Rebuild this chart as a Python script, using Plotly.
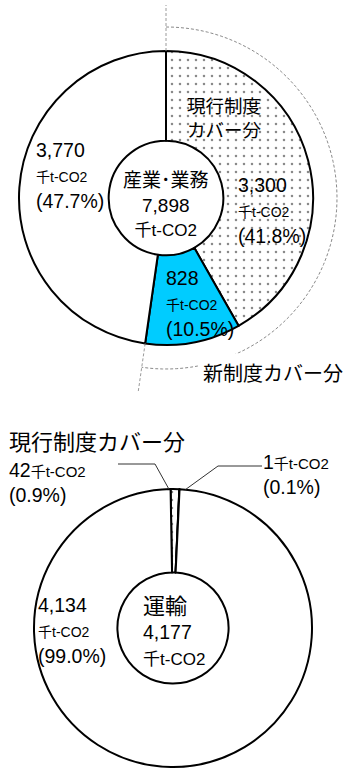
import math
import plotly.graph_objects as go

W, H = 355, 771
FONT = "Liberation Sans, Noto Sans CJK JP, sans-serif"
JFONT = "Noto Sans CJK JP, Liberation Sans, sans-serif"

# ---- data ----
top_labels = ["現行制度カバー分", "新制度カバー分", "その他"]
top_values = [3300, 828, 3770]
top_pcts = ["41.8%", "10.5%", "47.7%"]
top_title = "産業･業務"
top_total = 7898

bot_labels = ["現行制度カバー分", "新制度カバー分", "その他"]
bot_values = [42, 1, 4134]
bot_pcts = ["0.9%", "0.1%", "99.0%"]
bot_title = "運輸"
bot_total = 4177

unit = "千t-CO2"
colors = ["#F0F0F0", "#00CCFF", "#FFFFFF"]

# ---- geometry (pixels) ----
TC = (166, 198); TR = 147
BC = (173, 628); BR = 139


def dom(c, r):
    return dict(x=[(c[0] - r) / W, (c[0] + r) / W],
                y=[1 - (c[1] + r) / H, 1 - (c[1] - r) / H])


def pt(c, r, ang):
    a = math.radians(ang)
    return c[0] + r * math.sin(a), c[1] - r * math.cos(a)


fig = go.Figure()
fig.add_trace(go.Scatter(x=[None], y=[None], showlegend=False, hoverinfo="skip"))

pattern = dict(shape=[".", "", ""], fgcolor="#8a8a8a", size=8, solidity=0.08)
fig.add_trace(go.Pie(labels=top_labels, values=top_values, sort=False, direction="clockwise",
                     rotation=0, hole=0.39, domain=dom(TC, TR), textinfo="none",
                     marker=dict(colors=colors, line=dict(color="black", width=2), pattern=pattern),
                     showlegend=False, hoverinfo="label+value"))
fig.add_trace(go.Pie(labels=bot_labels, values=bot_values, sort=False, direction="clockwise",
                     rotation=-1, hole=0.40, domain=dom(BC, BR), textinfo="none",
                     marker=dict(colors=colors, line=dict(color="black", width=2), pattern=pattern),
                     showlegend=False, hoverinfo="label+value"))

# ---- decorations: dashed coverage arc on the top chart ----
tsum = sum(top_values)
b2 = 360 * (top_values[0] + top_values[1]) / tsum
n = 80
arc_pts = [pt(TC, 171, b2 * i / n) for i in range(n + 1)]
path = "M " + " L ".join(f"{x:.2f},{y:.2f}" for x, y in arc_pts)
shapes = [dict(type="path", path=path, xref="x", yref="y",
               line=dict(color="#8a8a8a", width=1, dash="3px,2px"), layer="above")]
for ang, r2 in [(0, 193), (b2, 196)]:
    x0, y0 = pt(TC, TR, ang)
    x1, y1 = pt(TC, r2, ang)
    shapes.append(dict(type="line", x0=x0, y0=y0, x1=x1, y1=y1, xref="x", yref="y",
                       line=dict(color="#9a9a9a", width=1, dash="3px,2px"), layer="above"))

# ---- leader lines on the bottom chart ----
bsum = sum(bot_values)
m1 = 360 * bot_values[0] / 2 / bsum - 1
m2 = 360 * (bot_values[0] + bot_values[1] / 2) / bsum - 1
ex1, ey1 = pt(BC, BR, m1 - 2.5)
ex2, ey2 = pt(BC, BR, m2 + 2.5)
for pts_ in [[(118, 464), (155, 464), (ex1, ey1)], [(ex2, ey2), (218, 466), (262, 466)]]:
    p = "M " + " L ".join(f"{x:.2f},{y:.2f}" for x, y in pts_)
    shapes.append(dict(type="path", path=p, xref="x", yref="y",
                       line=dict(color="#333333", width=1), layer="above"))

ann = []


def A(text, x, y, size, anchor="left", font=FONT, bg=None, align="left"):
    d = dict(text=text, x=x, y=y, xref="x", yref="y", xanchor=anchor, yanchor="middle",
             showarrow=False, align=align, font=dict(family=font, size=size, color="black"))
    if bg:
        d.update(bgcolor=bg, borderpad=4)
    ann.append(d)


def S(text, size):
    return f"<span style='font-size:{size}px'>{text}</span>"


# top chart labels
A(top_labels[0][:4] + "<br>" + top_labels[0][4:], 185, 117, 18.5, font=JFONT)
A(f"{top_values[0]:,}<br>{S(unit, 14)}<br>({top_pcts[0]})", 236, 210, 19.5)
A(f"{top_values[1]:,}<br>{S(unit, 14)}<br>({top_pcts[1]})", 164, 303, 19.5)
A(f"{top_values[2]:,}<br>{S(unit, 14)}<br>({top_pcts[2]})", 34, 175, 19.5)
A(f"{top_title}<br>{top_total:,}<br>{S(unit, 17)}", 166, 205, 19, anchor="center", align="center")
A(top_labels[1], 198, 372, 20, font=JFONT, bg="white")

# bottom chart labels
A(bot_labels[0], 7, 440, 22, font=JFONT)
A(f"{bot_values[0]:,}{S(unit, 15)}<br>({bot_pcts[0]})", 7, 482, 19.5)
A(f"{bot_values[1]:,}{S(unit, 15)}<br>({bot_pcts[1]})", 261, 474, 19.5)
A(f"{bot_values[2]:,}<br>{S(unit, 14)}<br>({bot_pcts[2]})", 36, 630, 19.5)
A(f"{S(bot_title, 22)}<br>{bot_total:,}<br>{S(unit, 17)}", 141, 631, 19.5)

fig.update_layout(
    width=W, height=H, margin=dict(l=0, r=0, t=0, b=0),
    paper_bgcolor="white", plot_bgcolor="rgba(0,0,0,0)",
    xaxis=dict(range=[0, W], visible=False, domain=[0, 1], fixedrange=True),
    yaxis=dict(range=[H, 0], visible=False, domain=[0, 1], fixedrange=True),
    shapes=shapes, annotations=ann, showlegend=False,
)
fig.write_html("out.html")
